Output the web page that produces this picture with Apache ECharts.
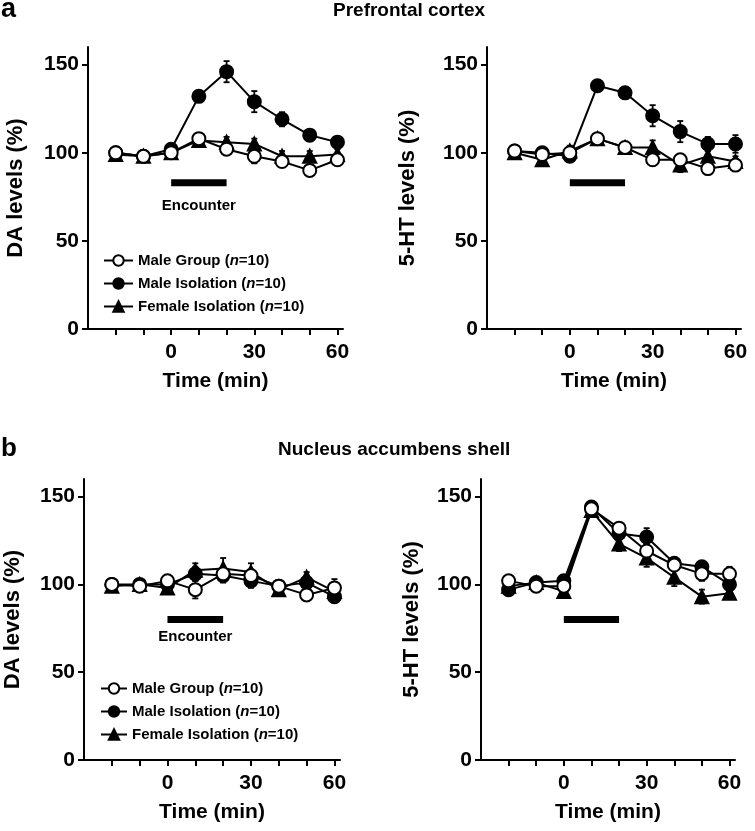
<!DOCTYPE html>
<html>
<head>
<meta charset="utf-8">
<script src="https://cdn.jsdelivr.net/npm/echarts@6/dist/echarts.min.js"></script>
<style>html,body{margin:0;padding:0;background:#fff}#c{width:755px;height:831px}</style>
</head>
<body>
<div id="c"></div>
<script>
// ---- data ----
const times = [-20, -10, 0, 10, 20, 30, 40, 50, 60];
const xTickValues = [-20, -10, 0, 10, 20, 30, 40, 50, 60];
const xLabelValues = [0, 30, 60];
const yTickValues = [0, 50, 100, 150];
const encounterPeriod = [0, 20];
const seriesNames = ['Male Group', 'Male Isolation', 'Female Isolation'];

// Prefrontal cortex, DA
const pfcDA_group     = [100, 98, 100, 108, 102, 98, 95, 90, 96];
const pfcDA_groupSem  = [2, 2, 2, 3, 3, 4, 3, 3, 3];
const pfcDA_iso       = [100, 98, 102, 132, 146, 129, 119, 110, 106];
const pfcDA_isoSem    = [2, 2, 3, 3, 6, 6, 4, 3, 3];
const pfcDA_fem       = [99, 98, 100, 107, 106, 105, 98, 98, 99];
const pfcDA_femSem    = [2, 2, 2, 3, 3, 3, 3, 3, 3];

// Prefrontal cortex, 5-HT
const pfc5HT_group    = [101, 99, 100, 108, 103, 96, 96, 91, 93];
const pfc5HT_groupSem = [2, 2, 2, 3, 2, 3, 3, 3, 3];
const pfc5HT_iso      = [101, 100, 98, 138, 134, 121, 112, 105, 105];
const pfc5HT_isoSem   = [2, 3, 3, 3, 3, 6, 6, 4, 5];
const pfc5HT_fem      = [100, 96, 101, 108, 103, 103, 93, 98, 95];
const pfc5HT_femSem   = [2, 3, 3, 3, 3, 4, 4, 3, 3];

// Nucleus accumbens shell, DA
const nacDA_group     = [100, 99, 102, 97, 106, 105, 99, 94, 98];
const nacDA_groupSem  = [2, 2, 2, 5, 4, 3, 3, 3, 5];
const nacDA_iso       = [100, 100, 100, 106, 105, 102, 99, 101, 93];
const nacDA_isoSem    = [2, 2, 2, 4, 4, 4, 3, 3, 3];
const nacDA_fem       = [99, 100, 98, 108, 109, 107, 97, 104, 96];
const nacDA_femSem    = [2, 2, 2, 4, 6, 5, 3, 3, 3];

// Nucleus accumbens shell, 5-HT
const nac5HT_group    = [102, 99, 99, 143, 132, 119, 111, 106, 106];
const nac5HT_groupSem = [2, 2, 2, 3, 3, 4, 3, 4, 4];
const nac5HT_iso      = [97, 101, 102, 144, 129, 127, 112, 110, 100];
const nac5HT_isoSem   = [2, 2, 2, 3, 3, 5, 3, 3, 4];
const nac5HT_fem      = [99, 101, 96, 142, 123, 115, 104, 93, 95];
const nac5HT_femSem   = [2, 2, 3, 3, 4, 5, 5, 4, 3];

// ---- chart ----
const FONT = '"Liberation Sans", Arial, Helvetica, sans-serif';
const panels = [
  { grid: {left: 88, top: 47, width: 255, height: 282}, yName: 'DA levels (%)', nameGap: 61,
    means: [pfcDA_group, pfcDA_iso, pfcDA_fem], sems: [pfcDA_groupSem, pfcDA_isoSem, pfcDA_femSem],
    barY: 83, encounterLabel: true },
  { grid: {left: 487, top: 47, width: 254, height: 282}, yName: '5-HT levels (%)', nameGap: 68,
    means: [pfc5HT_group, pfc5HT_iso, pfc5HT_fem], sems: [pfc5HT_groupSem, pfc5HT_isoSem, pfc5HT_femSem],
    barY: 83, encounterLabel: false },
  { grid: {left: 84, top: 479, width: 256, height: 281}, yName: 'DA levels (%)', nameGap: 60,
    means: [nacDA_group, nacDA_iso, nacDA_fem], sems: [nacDA_groupSem, nacDA_isoSem, nacDA_femSem],
    barY: 80, encounterLabel: true },
  { grid: {left: 481, top: 479, width: 254, height: 281}, yName: '5-HT levels (%)', nameGap: 58,
    means: [nac5HT_group, nac5HT_iso, nac5HT_fem], sems: [nac5HT_groupSem, nac5HT_isoSem, nac5HT_femSem],
    barY: 80, encounterLabel: false }
];

const symbols = ['circle', 'circle', 'triangle'];
const fills = ['#ffffff', '#000000', '#000000'];
const drawOrder = [2, 1, 0];

const grids = [], xAxes = [], yAxes = [], series = [];
panels.forEach((p, gi) => {
  grids.push(Object.assign({containLabel: false}, p.grid));
  xAxes.push({
    type: 'value', gridIndex: gi, min: -30, max: 62,
    name: 'Time (min)', nameLocation: 'middle', nameGap: 42,
    nameTextStyle: {fontFamily: FONT, fontWeight: 'bold', fontSize: 21, color: '#000'},
    axisLine: {onZero: false, lineStyle: {color: '#000', width: 2}},
    axisTick: {show: true, customValues: xTickValues, length: 6, lineStyle: {color: '#000', width: 2}},
    axisLabel: {customValues: xLabelValues, margin: 13, fontFamily: FONT, fontWeight: 'bold', fontSize: 21, color: '#000'},
    splitLine: {show: false}
  });
  yAxes.push({
    type: 'value', gridIndex: gi, min: 0, max: 160,
    name: p.yName, nameLocation: 'middle', nameGap: p.nameGap,
    nameTextStyle: {fontFamily: FONT, fontWeight: 'bold', fontSize: 22, color: '#000'},
    axisLine: {show: true, onZero: false, lineStyle: {color: '#000', width: 2}},
    axisTick: {show: true, customValues: yTickValues, length: 6, lineStyle: {color: '#000', width: 2}},
    axisLabel: {customValues: yTickValues, margin: 9, fontFamily: FONT, fontWeight: 'bold', fontSize: 21, color: '#000'},
    splitLine: {show: false}
  });

  // encounter bar
  series.push({
    type: 'line', xAxisIndex: gi, yAxisIndex: gi, silent: true, symbol: 'none',
    data: encounterPeriod.map(t => [t, p.barY]),
    lineStyle: {color: '#000', width: 7, cap: 'butt'}, z: 2
  });
  if (p.encounterLabel) {
    series.push({
      type: 'scatter', xAxisIndex: gi, yAxisIndex: gi, silent: true, symbolSize: 0,
      itemStyle: {opacity: 1, color: '#000'},
      data: [[(encounterPeriod[0] + encounterPeriod[1]) / 2, 70]],
      label: {show: true, position: 'inside', formatter: 'Encounter', opacity: 1,
        fontFamily: FONT, fontWeight: 'bold', fontSize: 15, color: '#000', textBorderWidth: 0}
    });
  }

  drawOrder.forEach((si, k) => {
    const m = p.means[si], s = p.sems[si];
    // error bars
    series.push({
      type: 'custom', xAxisIndex: gi, yAxisIndex: gi, silent: true, z: 3 + k * 2,
      data: times.map((t, i) => [t, m[i] - s[i], m[i] + s[i]]),
      renderItem: function (params, api) {
        const lo = api.coord([api.value(0), api.value(1)]);
        const hi = api.coord([api.value(0), api.value(2)]);
        const w = 3;
        return {type: 'group', children: [
          {type: 'line', shape: {x1: lo[0], y1: lo[1], x2: hi[0], y2: hi[1]}, style: {stroke: '#000', lineWidth: 1.8}},
          {type: 'line', shape: {x1: hi[0] - w, y1: hi[1], x2: hi[0] + w, y2: hi[1]}, style: {stroke: '#000', lineWidth: 1.8}},
          {type: 'line', shape: {x1: lo[0] - w, y1: lo[1], x2: lo[0] + w, y2: lo[1]}, style: {stroke: '#000', lineWidth: 1.8}}
        ]};
      }
    });
    series.push({
      type: 'line', name: seriesNames[si], xAxisIndex: gi, yAxisIndex: gi, z: 4 + k * 2,
      data: times.map((t, i) => [t, m[i]]),
      symbol: symbols[si], symbolSize: 13, showAllSymbol: true,
      lineStyle: {color: '#000', width: 2},
      itemStyle: {color: fills[si], borderColor: '#000', borderWidth: 2},
      emphasis: {disabled: true}, animation: false
    });
  });
});

const legendRich = {
  b: {fontFamily: FONT, fontWeight: 'bold', fontSize: 15, color: '#000'},
  i: {fontFamily: FONT, fontWeight: 'bold', fontStyle: 'italic', fontSize: 15, color: '#000'}
};
const legendFormatter = name => '{b|' + name + ' (}{i|n}{b|=10)}';
const mkLegend = (left, top, w, gap) => ({
  orient: 'vertical', left: left, top: top, itemWidth: w, itemHeight: 13, itemGap: gap,
  selectedMode: false, data: seriesNames, formatter: legendFormatter,
  textStyle: {rich: legendRich, fontSize: 15, lineHeight: 15}, padding: 0
});

const option = {
  animation: false,
  backgroundColor: '#fff',
  grid: grids, xAxis: xAxes, yAxis: yAxes, series: series,
  legend: [mkLegend(103, 253, 29, 8), mkLegend(100, 681, 26, 8)],
  graphic: [
    {type: 'text', left: 1, top: -4, style: {text: 'a', font: 'bold 27px ' + FONT, fill: '#000'}},
    {type: 'text', left: 333, top: 1, style: {text: 'Prefrontal cortex', font: 'bold 19px ' + FONT, fill: '#000'}},
    {type: 'text', left: 1, top: 436, style: {text: 'b', font: 'bold 26px ' + FONT, fill: '#000'}},
    {type: 'text', left: 278, top: 440, style: {text: 'Nucleus accumbens shell', font: 'bold 19px ' + FONT, fill: '#000'}}
  ]
};

const chart = echarts.init(document.getElementById('c'), null, {renderer: 'canvas'});
chart.setOption(option);
</script>
</body>
</html>
